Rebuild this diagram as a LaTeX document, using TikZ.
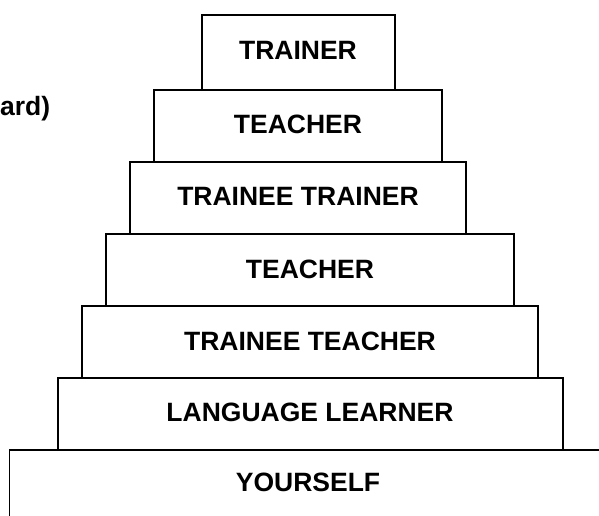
\documentclass[tikz,border=0pt]{standalone}
\usepackage{fontspec}
\setmainfont{Liberation Sans}
\begin{document}
\begin{tikzpicture}[x=1pt,y=-1pt,
  tier/.style={draw=black, line width=1.6pt, rectangle, inner sep=0pt, outer sep=0pt,
    anchor=north west, font=\fontsize{26.5}{30}\selectfont\bfseries, text=black},
  caption/.style={inner sep=0pt, font=\fontsize{26.5}{30}\selectfont\bfseries, text=black}]
  \useasboundingbox (0,0) rectangle (599,515);
  \clip (0,0) rectangle (599,515);

  % base tier, running past the right and bottom edges
  \draw[line width=1.6pt] (9.5,540) |- (640,450);
  \node[caption] (yourself) at (308,482.5) {YOURSELF};

  % stacked tiers, from the bottom up
  \node[tier, minimum width=505pt, minimum height=72pt] (learner) at (58,378) {};
  \node[caption] (learnertext) at (310,412.5) {LANGUAGE LEARNER};
  \node[tier, minimum width=456pt, minimum height=72pt] (traineeteacher) at (82,306) {};
  \node[caption] (traineeteachertext) at (310,341.5) {TRAINEE TEACHER};
  \node[tier, minimum width=408pt, minimum height=72pt] (teacherlow) at (106,234) {};
  \node[caption] (teacherlowtext) at (310,269.5) {TEACHER};
  \node[tier, minimum width=336pt, minimum height=72pt] (traineetrainer) at (130,162) {};
  \node[caption] (traineetrainertext) at (298,196.5) {TRAINEE TRAINER};
  \node[tier, minimum width=288pt, minimum height=72pt] (teacherhigh) at (154,90) {};
  \node[caption] (teacherhightext) at (298,124.5) {TEACHER};
  \node[tier, minimum width=193pt, minimum height=75pt] (trainer) at (202,15) {};
  \node[caption] (trainertext) at (298,50) {TRAINER};

  % side caption, running off the left edge
  \node[caption, anchor=base west] (side) at (0,115) {ard)};
\end{tikzpicture}
\end{document}
